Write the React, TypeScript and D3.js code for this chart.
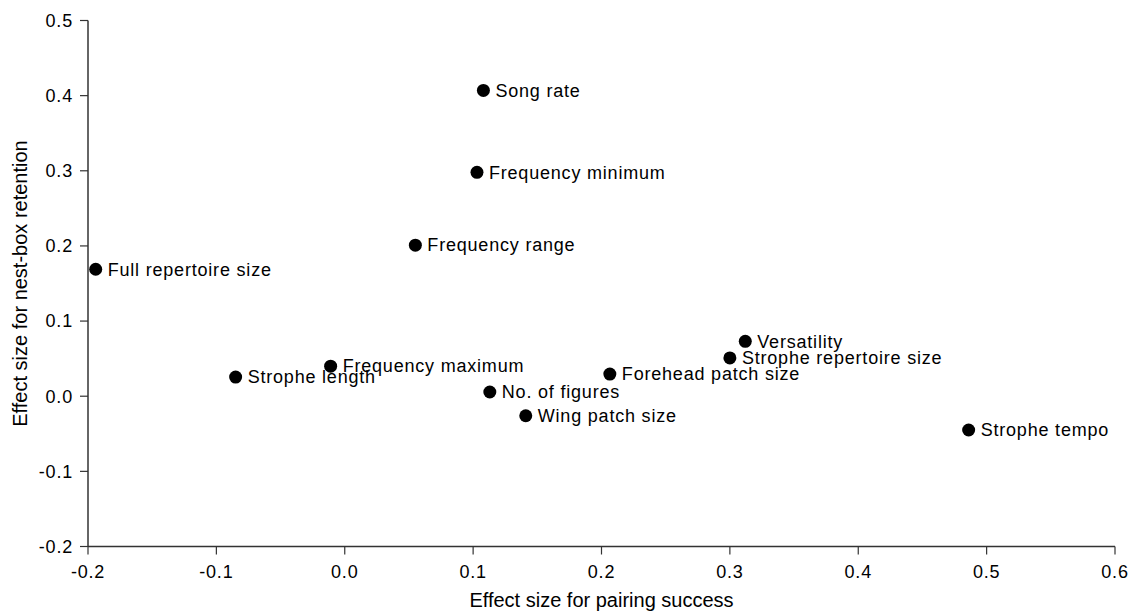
import React from 'react';
import * as d3 from 'd3';

const traits = [
  'Song rate',
  'Frequency minimum',
  'Frequency range',
  'Full repertoire size',
  'Versatility',
  'Strophe repertoire size',
  'Frequency maximum',
  'Strophe length',
  'Forehead patch size',
  'No. of figures',
  'Wing patch size',
  'Strophe tempo',
];
const pairingEffect = [0.108, 0.103, 0.055, -0.194, 0.312, 0.300, -0.011, -0.085, 0.2065, 0.113, 0.141, 0.486];
const retentionEffect = [0.407, 0.298, 0.201, 0.169, 0.073, 0.051, 0.040, 0.0255, 0.0295, 0.0056, -0.026, -0.045];

const xTicks = [-0.2, -0.1, 0.0, 0.1, 0.2, 0.3, 0.4, 0.5, 0.6];
const yTicks = [-0.2, -0.1, 0.0, 0.1, 0.2, 0.3, 0.4, 0.5];

const width = 1132;
const height = 616;
const margin = { top: 20.5, right: 17, bottom: 69.5, left: 88 };

export default function App() {
  const x = d3.scaleLinear().domain([-0.2, 0.6]).range([margin.left, width - margin.right]);
  const y = d3.scaleLinear().domain([-0.2, 0.5]).range([height - margin.bottom, margin.top]);
  // plain hyphen for negatives, like the original
  const fmt = (v: number) => d3.format('.1f')(v).replace('\u2212', '-');
  const font = 'Arial, "Liberation Sans", sans-serif';
  const axisColor = '#333';

  const points = traits.map((t, i) => ({ name: t, px: pairingEffect[i], ry: retentionEffect[i] }));

  return (
    <svg
      width={width}
      height={height}
      style={{ position: 'absolute', left: 0, top: 0, background: '#fff' }}
      fontFamily={font}
    >
      {/* y axis */}
      <line x1={x(-0.2)} x2={x(-0.2)} y1={y(0.5)} y2={y(-0.2)} stroke={axisColor} strokeWidth={1.5} />
      {yTicks.map((t) => (
        <g key={'y' + t}>
          <line x1={x(-0.2) - 8} x2={x(-0.2)} y1={y(t)} y2={y(t)} stroke={axisColor} strokeWidth={1.2} />
          <text x={x(-0.2) - 15} y={y(t)} dy="0.35em" textAnchor="end" fontSize={18} letterSpacing={0.8} fill="#000">
            {fmt(t)}
          </text>
        </g>
      ))}
      {/* x axis */}
      <line x1={x(-0.2)} x2={x(0.6)} y1={y(-0.2)} y2={y(-0.2)} stroke={axisColor} strokeWidth={1.5} />
      {xTicks.map((t) => (
        <g key={'x' + t}>
          <line x1={x(t)} x2={x(t)} y1={y(-0.2)} y2={y(-0.2) + 8} stroke={axisColor} strokeWidth={1.2} />
          <text x={x(t)} y={y(-0.2) + 31} textAnchor="middle" fontSize={18} letterSpacing={0.8} fill="#000">
            {fmt(t)}
          </text>
        </g>
      ))}

      {/* points */}
      {points.map((p) => (
        <g key={p.name}>
          <circle cx={x(p.px)} cy={y(p.ry)} r={6.5} fill="#000" />
          <text x={x(p.px) + 12} y={y(p.ry)} dy="0.35em" fontSize={18} letterSpacing={0.8} fill="#000">
            {p.name}
          </text>
        </g>
      ))}

      {/* axis titles */}
      <text
        x={(x(-0.2) + x(0.6)) / 2}
        y={607}
        textAnchor="middle"
        fontSize={20}
        fill="#000"
      >
        Effect size for pairing success
      </text>
      <text
        transform={`translate(27, ${(y(0.5) + y(-0.2)) / 2}) rotate(-90)`}
        textAnchor="middle"
        fontSize={20}
        fill="#000"
      >
        Effect size for nest-box retention
      </text>
    </svg>
  );
}
